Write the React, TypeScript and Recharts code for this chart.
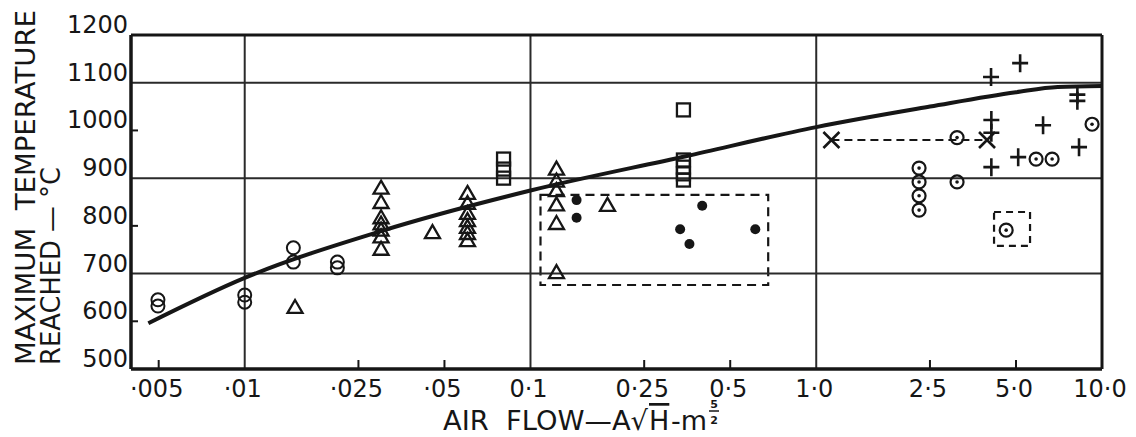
import { ComposedChart, Scatter, Line, XAxis, YAxis, ReferenceLine, ReferenceArea, Label } from 'recharts';

const INK = '#161616';
const FONT = '"DejaVu Sans", sans-serif';

// axis ticks
const xTicks = [0.005, 0.01, 0.025, 0.05, 0.1, 0.25, 0.5, 1, 2.5, 5, 10];
const xTickLabels = ['·005', '·01', '·025', '·05', '0·1', '0·25', '0·5', '1·0', '2·5', '5·0', '10·0'];
const xMinor = [0.005, 0.025, 0.05, 0.25, 0.5, 2.5, 5];
const yTicks = [500, 600, 700, 800, 900, 1000, 1100, 1200];
const yMinor = [600, 800, 1000];
const gridX = [0.01, 0.1, 1];
const gridY = [700, 900, 1100];

// fitted curve
const curveX = [0.0046, 0.01, 0.03, 0.1, 0.35, 1, 2.5, 5, 7, 10];
const curveY = [596, 691, 789, 874, 946, 1007, 1050, 1080, 1091, 1093];

// point series [x, y]
const openCircles = [
  [0.00497, 645], [0.00497, 632], [0.01, 655], [0.01, 640],
  [0.0148, 754], [0.0148, 724], [0.0211, 724], [0.0211, 712],
];
const triangles = [
  [0.015, 630],
  [0.03, 880], [0.03, 850], [0.03, 818], [0.03, 805], [0.03, 792], [0.03, 778], [0.03, 752],
  [0.0454, 787],
  [0.0602, 869], [0.0602, 848], [0.0602, 827], [0.0602, 812], [0.0602, 798], [0.0602, 785], [0.0602, 770],
  [0.1233, 920], [0.1233, 895], [0.1233, 875], [0.1233, 845], [0.1233, 806], [0.1233, 703],
  [0.186, 844],
];
const squares = [
  [0.0805, 940], [0.0805, 919], [0.0805, 900],
  [0.343, 1043], [0.343, 938], [0.343, 923], [0.343, 909], [0.343, 896],
];
const dots = [
  [0.145, 854], [0.145, 817], [0.334, 793], [0.36, 762], [0.399, 842], [0.612, 793],
];
const dotCircles = [
  [2.29, 921], [2.29, 892], [2.29, 863], [2.29, 833], [3.11, 985], [3.11, 892],
  [5.88, 940], [6.69, 940], [9.23, 1013], [4.62, 791],
];
const crosses = [[1.13, 980], [3.96, 980]];
const pluses = [
  [4.09, 1112], [5.17, 1141], [4.1, 1022], [4.1, 995], [4.1, 923],
  [6.22, 1011], [5.09, 944], [8.31, 965], [8.2, 1075], [8.2, 1062],
];

const toPts = (arr: number[][]) => arr.map(([x, y]) => ({ x, y }));
const curve = curveX.map((x, i) => ({ x, y: curveY[i] }));

const Circle = (p: any) => <circle cx={p.cx} cy={p.cy} r={6.5} fill="none" stroke={INK} strokeWidth={2} />;
const Dot = (p: any) => <circle cx={p.cx} cy={p.cy} r={5} fill={INK} />;
const DotCircle = (p: any) => (
  <g>
    <circle cx={p.cx} cy={p.cy} r={6.5} fill="none" stroke={INK} strokeWidth={2.2} />
    <circle cx={p.cx} cy={p.cy} r={1.8} fill={INK} />
  </g>
);
const Tri = (p: any) => (
  <path d={`M${p.cx},${p.cy - 7} L${p.cx + 7.5},${p.cy + 6} L${p.cx - 7.5},${p.cy + 6} Z`} fill="none" stroke={INK} strokeWidth={2.3} strokeLinejoin="miter" />
);
const Sq = (p: any) => <rect x={p.cx - 6.5} y={p.cy - 6.5} width={13} height={13} fill="none" stroke={INK} strokeWidth={2.3} />;
const Plus = (p: any) => (
  <path d={`M${p.cx - 8},${p.cy} H${p.cx + 8} M${p.cx},${p.cy - 9} V${p.cy + 9}`} stroke={INK} strokeWidth={2.6} />
);
const Cross = (p: any) => (
  <path d={`M${p.cx - 8},${p.cy - 8} L${p.cx + 8},${p.cy + 8} M${p.cx + 8},${p.cy - 8} L${p.cx - 8},${p.cy + 8}`} stroke={INK} strokeWidth={2.6} />
);

const YTick = (props: any) => {
  const { x, y, payload } = props;
  return (
    <g>
      {yMinor.includes(payload.value) && <line x1={x + 3} x2={x + 10} y1={y} y2={y} stroke={INK} strokeWidth={2} />}
      <text x={x} y={y - 2} textAnchor="end" fontSize={24} fontFamily={FONT} fill={INK}>{payload.value}</text>
    </g>
  );
};

const XTick = (props: any) => {
  const { x, y, payload } = props;
  const i = xTicks.indexOf(payload.value);
  return (
    <g>
      {xMinor.includes(payload.value) && <line x1={x} x2={x} y1={y - 28} y2={y - 37} stroke={INK} strokeWidth={2} />}
      <text x={x - 2} y={y} textAnchor="middle" fontSize={24} fontFamily={FONT} fill={INK}>{xTickLabels[i]}</text>
    </g>
  );
};

const YTitle = () => (
  <g fontFamily={FONT} fill={INK}>
    <text xmlSpace="preserve" transform="translate(27,357) rotate(-90)" fontSize={27} textLength={355} lengthAdjust="spacingAndGlyphs">MAXIMUM  TEMPERATURE</text>
    <text xmlSpace="preserve" transform="translate(52,357) rotate(-90)" fontSize={27} textLength={198} lengthAdjust="spacingAndGlyphs">REACHED — °C</text>
  </g>
);

// x title pieces laid out side by side (H carries the radical's bar)
const XTitle = () => (
  <g fontFamily={FONT} fill={INK} fontSize={27}>
    <text xmlSpace="preserve" x={435} y={422} textLength={205} lengthAdjust="spacingAndGlyphs">AIR  FLOW—A√</text>
    <text x={641} y={422} style={{ textDecoration: 'overline' }}>H</text>
    <text x={663} y={422}>-m</text>
    <text x={706} y={400} fontSize={11} fontWeight="bold" textAnchor="middle">5</text>
    <line x1={701} x2={711} y1={403} y2={403} stroke={INK} strokeWidth={1.5} />
    <text x={706} y={416} fontSize={11} fontWeight="bold" textAnchor="middle">2</text>
  </g>
);

export default function App() {
  return (
    <div style={{ width: 1120, height: 429, background: '#fff' }}>
      <ComposedChart width={1120} height={429} margin={{ top: 27, right: 26, left: 0, bottom: 0 }}>
        <XAxis
          dataKey="x"
          type="number"
          scale="log"
          domain={[0.004, 10]}
          allowDataOverflow
          ticks={xTicks}
          interval={0}
          tick={XTick}
          tickLine={false}
          tickSize={0}
          tickMargin={28}
          height={68}
          axisLine={{ stroke: INK, strokeWidth: 3.5 }}
        >
          <Label content={XTitle} />
        </XAxis>
        <YAxis
          dataKey="y"
          type="number"
          domain={[500, 1200]}
          allowDataOverflow
          ticks={yTicks}
          interval={0}
          tick={YTick}
          tickLine={false}
          tickSize={0}
          tickMargin={3}
          width={123}
          axisLine={{ stroke: INK, strokeWidth: 3.5 }}
        >
          <Label content={YTitle} />
        </YAxis>

        {gridY.map((v) => (
          <ReferenceLine key={'gy' + v} y={v} stroke="#2a2a2a" strokeWidth={2} />
        ))}
        {gridX.map((v) => (
          <ReferenceLine key={'gx' + v} x={v} stroke="#2a2a2a" strokeWidth={2} />
        ))}
        <ReferenceLine y={1200} stroke={INK} strokeWidth={3} />
        <ReferenceLine x={10} stroke={INK} strokeWidth={3} />

        <ReferenceArea x1={0.1084} x2={0.679} y1={676} y2={865} fill="none" fillOpacity={0} stroke={INK} strokeWidth={2.2} strokeDasharray="9 6" />
        <ReferenceArea x1={4.19} x2={5.6} y1={758} y2={829} fill="none" fillOpacity={0} stroke={INK} strokeWidth={2.2} strokeDasharray="7 5" />

        <Line data={curve} dataKey="y" type="monotone" stroke={INK} strokeWidth={4} dot={false} activeDot={false} isAnimationActive={false} />
        <Line data={toPts(crosses)} dataKey="y" type="linear" stroke={INK} strokeWidth={2} strokeDasharray="8 5" dot={false} activeDot={false} isAnimationActive={false} />

        <Scatter data={toPts(openCircles)} dataKey="y" shape={Circle} isAnimationActive={false} />
        <Scatter data={toPts(triangles)} dataKey="y" shape={Tri} isAnimationActive={false} />
        <Scatter data={toPts(squares)} dataKey="y" shape={Sq} isAnimationActive={false} />
        <Scatter data={toPts(dots)} dataKey="y" shape={Dot} isAnimationActive={false} />
        <Scatter data={toPts(dotCircles)} dataKey="y" shape={DotCircle} isAnimationActive={false} />
        <Scatter data={toPts(crosses)} dataKey="y" shape={Cross} isAnimationActive={false} />
        <Scatter data={toPts(pluses)} dataKey="y" shape={Plus} isAnimationActive={false} />
      </ComposedChart>
    </div>
  );
}
